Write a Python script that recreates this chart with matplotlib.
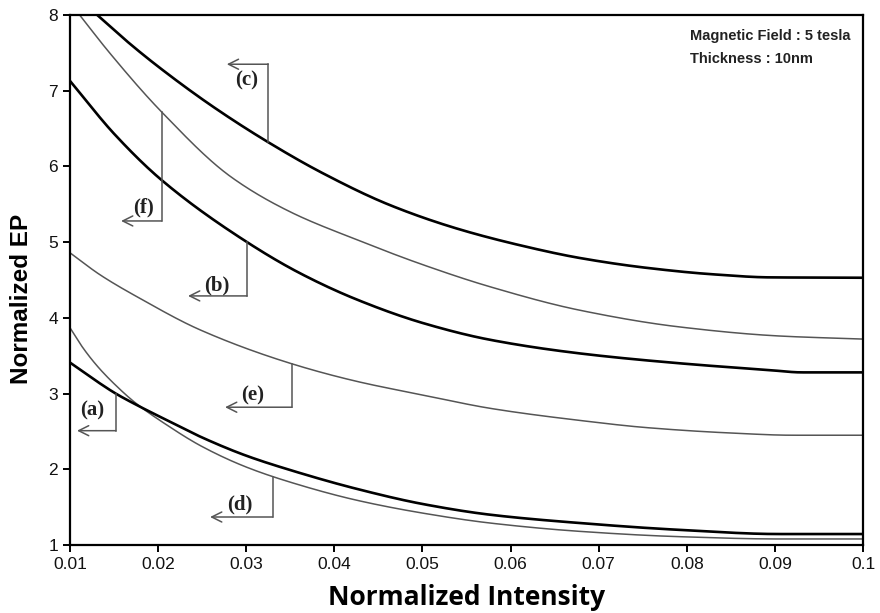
import matplotlib
matplotlib.use("Agg")
import matplotlib.pyplot as plt
import numpy as np

# Normalized EP versus normalized intensity, six cases (a)-(f)
x_a = [0.01, 0.0132, 0.0152, 0.0174, 0.0208, 0.025, 0.03, 0.035, 0.0426, 0.0501, 0.0577, 0.0679, 0.0792, 0.0905, 0.1]
y_a = [3.41, 3.15, 3.00, 2.86, 2.66, 2.42, 2.18, 1.99, 1.74, 1.54, 1.40, 1.29, 1.20, 1.145, 1.145]

x_b = [0.01, 0.0151, 0.0204, 0.0301, 0.0361, 0.0426, 0.0501, 0.0577, 0.0679, 0.0792, 0.0894, 0.0931, 0.1]
y_b = [7.13, 6.42, 5.82, 5.00, 4.59, 4.24, 3.93, 3.71, 3.53, 3.40, 3.31, 3.28, 3.28]

x_c = [0.0131, 0.0165, 0.02, 0.0261, 0.0325, 0.0387, 0.0463, 0.0539, 0.0614, 0.0679, 0.0755, 0.083, 0.0894, 0.1]
y_c = [8.00, 7.65, 7.32, 6.80, 6.32, 5.91, 5.49, 5.18, 4.95, 4.79, 4.66, 4.575, 4.535, 4.53]

x_d = [0.01, 0.0115, 0.0132, 0.0151, 0.0174, 0.0208, 0.025, 0.03, 0.035, 0.0426, 0.0501, 0.0577, 0.0679, 0.0792, 0.0905, 0.1]
y_d = [3.87, 3.60, 3.35, 3.12, 2.88, 2.60, 2.30, 2.03, 1.83, 1.59, 1.42, 1.29, 1.18, 1.11, 1.08, 1.08]

x_e = [0.01, 0.0134, 0.0179, 0.0248, 0.035, 0.0426, 0.0501, 0.0577, 0.0679, 0.0755, 0.0849, 0.0921, 0.1]
y_e = [4.86, 4.57, 4.26, 3.84, 3.40, 3.16, 2.98, 2.805, 2.645, 2.55, 2.48, 2.45, 2.45]

x_f = [0.0111, 0.0145, 0.0204, 0.0283, 0.035, 0.0426, 0.0501, 0.0577, 0.0679, 0.0792, 0.0906, 0.1]
y_f = [8.00, 7.50, 6.72, 5.86, 5.40, 5.03, 4.70, 4.41, 4.10, 3.88, 3.76, 3.72]

x_ticks = [0.01, 0.02, 0.03, 0.04, 0.05, 0.06, 0.07, 0.08, 0.09, 0.1]
x_tick_labels = ["0.01", "0.02", "0.03", "0.04", "0.05", "0.06", "0.07", "0.08", "0.09", "0.1"]
y_ticks = [1, 2, 3, 4, 5, 6, 7, 8]


def pchip(xs, ys, n=400):
    """Monotone cubic (Fritsch-Carlson) curve through the given points."""
    x = np.asarray(xs, float)
    y = np.asarray(ys, float)
    h = np.diff(x)
    d = np.diff(y) / h
    m = np.zeros_like(y)
    for k in range(1, len(x) - 1):
        if d[k - 1] * d[k] > 0:
            w1 = 2 * h[k] + h[k - 1]
            w2 = h[k] + 2 * h[k - 1]
            m[k] = (w1 + w2) / (w1 / d[k - 1] + w2 / d[k])
    m[0] = d[0] if d[0] * d[1] > 0 else 0.0
    m[-1] = d[-1]
    if len(d) > 1 and d[-1] * d[-2] <= 0:
        m[-1] = 0.0
    xx = np.linspace(x[0], x[-1], n)
    idx = np.clip(np.searchsorted(x, xx) - 1, 0, len(h) - 1)
    t = (xx - x[idx]) / h[idx]
    h00 = 2 * t**3 - 3 * t**2 + 1
    h10 = t**3 - 2 * t**2 + t
    h01 = -2 * t**3 + 3 * t**2
    h11 = t**3 - t**2
    yy = h00 * y[idx] + h10 * h[idx] * m[idx] + h01 * y[idx + 1] + h11 * h[idx] * m[idx + 1]
    return xx, yy


THICK = dict(color="black", lw=1.9, solid_capstyle="butt")
THIN = dict(color="#555555", lw=1.1, solid_capstyle="butt")

fig = plt.figure(figsize=(8.8, 6.13), dpi=100)
ax = fig.add_axes([0.0795, 0.1109, 0.9012, 0.8646])

curves = {
    "a": (x_a, y_a, THICK),
    "b": (x_b, y_b, THICK),
    "c": (x_c, y_c, THICK),
    "d": (x_d, y_d, THIN),
    "e": (x_e, y_e, THIN),
    "f": (x_f, y_f, THIN),
}
for key in ["c", "f", "b", "e", "d", "a"]:
    xs, ys, style = curves[key]
    ax.plot(*pchip(xs, ys), **style)

ax.set_xlim(0.01, 0.1)
ax.set_ylim(1, 8)
ax.set_xticks(x_ticks)
ax.set_xticklabels(x_tick_labels)
ax.set_yticks(y_ticks)

for s in ax.spines.values():
    s.set_linewidth(1.6)
    s.set_color("black")
ax.tick_params(direction="out", length=5, width=1.4, color="black",
               labelsize=12.5, labelcolor="#111111")
for lbl in ax.get_xticklabels() + ax.get_yticklabels():
    lbl.set_family("Liberation Sans")

ax.set_xlabel("Normalized Intensity", fontsize=19, fontweight="bold",
              family="Open Sans", labelpad=9)
ax.set_ylabel("Normalized EP", fontsize=17.5, fontweight="bold",
              family="Liberation Sans")
ax.yaxis.set_label_coords(-0.047, 0.464)

ax.text(0.782, 0.960, "Magnetic Field : 5 tesla", transform=ax.transAxes,
        fontsize=10.5, fontweight="bold", family="Liberation Sans",
        color="#222222", va="center", ha="left")
ax.text(0.782, 0.917, "Thickness : 10nm", transform=ax.transAxes,
        fontsize=10.5, fontweight="bold", family="Liberation Sans",
        color="#222222", va="center", ha="left")

# bracket callouts: (label, curve, x of vertical leg, y of horizontal leg,
#                    x of arrow tip, text x, text y)
callouts = [
    ("(c)", "c", 0.0325, 7.35, 0.0278, 0.0301, 7.14),
    ("(f)", "f", 0.0204, 5.28, 0.0158, 0.0183, 5.46),
    ("(b)", "b", 0.0301, 4.29, 0.0234, 0.0267, 4.43),
    ("(e)", "e", 0.0352, 2.82, 0.0276, 0.0307, 2.98),
    ("(a)", "a", 0.0152, 2.51, 0.0108, 0.0125, 2.78),
    ("(d)", "d", 0.0330, 1.37, 0.0259, 0.0293, 1.53),
]
for name, key, xv, yh, xtip, tx, ty in callouts:
    xs, ys, _ = curves[key]
    ycurve = np.interp(xv, *pchip(xs, ys))
    ax.plot([xv, xv], [ycurve, yh], color="#555555", lw=1.1)
    ax.annotate("", xy=(xtip, yh), xytext=(xv, yh),
                arrowprops=dict(arrowstyle="->", color="#555555", lw=1.1,
                                mutation_scale=18, shrinkA=0, shrinkB=0))
    ax.text(tx, ty, name, fontsize=15, fontweight="bold",
            family="Liberation Serif", color="#222222",
            ha="center", va="center")

fig.savefig("out.png", dpi=100, facecolor="white")
